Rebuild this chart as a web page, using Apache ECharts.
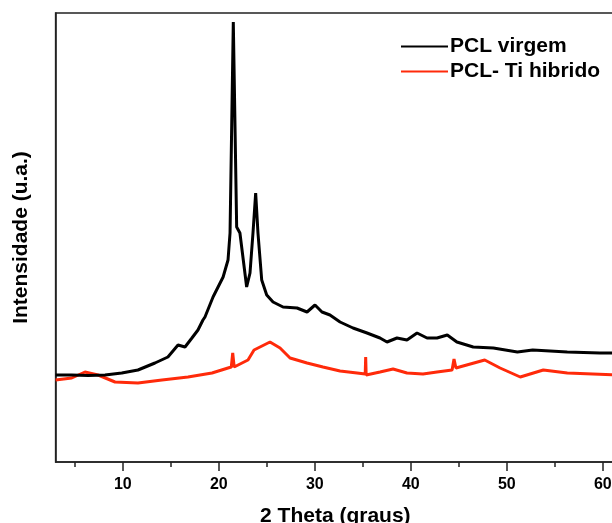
<!DOCTYPE html>
<html><head><meta charset="utf-8">
<script src="https://cdn.jsdelivr.net/npm/echarts@6/dist/echarts.min.js"></script>
<style>html,body{margin:0;padding:0;background:#fff}#c{width:612px;height:523px}</style>
</head><body><div id="c"></div>
<script>
// 2θ values and intensities (arbitrary units)
const pclX = [3,4.68,6.38,8.15,9.89,11.58,13.35,14.7,15.75,16.48,17.2,17.83,18.35,18.56,19.4,20.45,20.96,21.17,21.51,21.86,22.2,22.9,23.25,23.56,23.84,24.08,24.47,24.99,25.65,26.69,28.15,29.19,30.02,30.75,31.58,32.63,33.98,35.44,36.79,37.52,38.56,39.6,40.65,41.69,42.73,43.8,44.8,46.5,48.6,51.1,52.7,56.3,59.7,61.3];
const pclY = [174,174,173,174,178,184,198,210,234,230,248,264,284,290,330,370,404,458,880,470,458,350,378,458,538,458,364,334,320,310,308,300,314,300,294,280,268,258,248,240,248,244,258,248,248,254,240,230,228,220,224,220,218,218];
const tiX = [3,4.68,6.06,7.42,9.19,11.58,14.08,16.79,19.29,20.96,21.3,21.45,21.6,22.42,23.04,23.67,25.33,26.38,27.42,29.19,30.85,32.63,34.4,35.25,35.3,35.35,36.79,38.15,39.6,41.27,42.73,44.3,44.5,44.7,47.7,49.3,51.4,53.8,56.3,61.3];
const tiY = [164,168,180,174,160,158,164,170,178,188,190,218,190,198,204,224,240,228,208,198,190,182,178,176,210,174,180,186,178,176,180,184,206,188,204,188,170,184,178,174];
const majorTicks = [10,20,30,40,50,60];
const minorTicks = [5,15,25,35,45,55];
const seriesNames = ['PCL virgem','PCL- Ti hibrido'];

const zip = (a,b)=>a.map((v,i)=>[v,b[i]]);
const FONT = 'Liberation Sans, Arial, sans-serif';
const chart = echarts.init(document.getElementById('c'), null, {renderer:'canvas'});
const xMin = 3, xMax = 61.27;
chart.setOption({
  animation:false,
  backgroundColor:'#fff',
  grid:{left:55.6, top:13, right:-3, bottom:61, show:true, borderColor:'#222', borderWidth:1.5,
        containLabel:false, outerBoundsMode:'none'},
  legend:{
    orient:'vertical', left:396, top:31, itemWidth:47, itemHeight:2, itemGap:4, icon:'rect',
    textStyle:{fontFamily:FONT, fontWeight:'bold', fontSize:21, color:'#000', padding:[0,0,0,-3]},
    data:seriesNames
  },
  xAxis:[{
    type:'value', min:xMin, max:xMax,
    name:'2 Theta (graus)', nameLocation:'middle', nameGap:44,
    nameTextStyle:{fontFamily:FONT, fontWeight:'bold', fontSize:21, color:'#000'},
    axisLine:{show:true, lineStyle:{color:'#222', width:1.5}},
    axisTick:{show:true, inside:false, length:9, lineStyle:{color:'#222', width:1.5}, customValues:majorTicks},
    axisLabel:{show:true, margin:15, fontFamily:FONT, fontWeight:'bold', fontSize:16, color:'#000', customValues:majorTicks},
    splitLine:{show:false}
  },{
    type:'value', min:xMin, max:xMax, position:'bottom',
    axisLine:{show:false},
    axisTick:{show:true, inside:false, length:5, lineStyle:{color:'#222', width:1.5}, customValues:minorTicks},
    axisLabel:{show:false},
    splitLine:{show:false}
  }],
  yAxis:{
    type:'value', min:0, max:898,
    name:'Intensidade (u.a.)', nameLocation:'middle', nameGap:24, nameRotate:90,
    nameTextStyle:{fontFamily:FONT, fontWeight:'bold', fontSize:21, color:'#000'},
    axisLine:{show:true, lineStyle:{color:'#222', width:1.5}},
    axisTick:{show:false}, axisLabel:{show:false}, splitLine:{show:false}
  },
  series:[
    {name:seriesNames[0], type:'line', data:zip(pclX,pclY), symbol:'none', color:'#000',
     lineStyle:{color:'#000', width:3}, z:3},
    {name:seriesNames[1], type:'line', data:zip(tiX,tiY), symbol:'none', color:'#ff2a0a',
     lineStyle:{color:'#ff2a0a', width:3}, z:2}
  ]
});
</script></body></html>
